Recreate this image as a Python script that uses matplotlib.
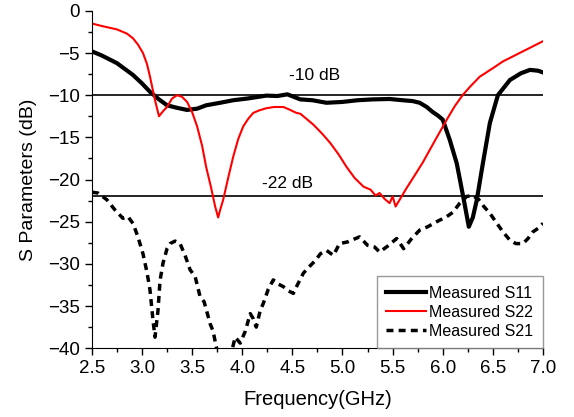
import matplotlib
matplotlib.use("Agg")
import matplotlib.pyplot as plt
from matplotlib.ticker import MultipleLocator

plt.rcParams['font.family'] = ['Liberation Sans', 'DejaVu Sans']

# S11 (black solid)
f_s11 = [2.5, 2.6, 2.75, 2.91, 3.0, 3.08, 3.17, 3.25, 3.35, 3.45, 3.55, 3.64, 3.78, 3.91,
         4.05, 4.24, 4.35, 4.45, 4.58, 4.7, 4.84, 5.0, 5.15, 5.3, 5.47, 5.6, 5.7, 5.77,
         5.84, 5.9, 5.95, 6.0, 6.07, 6.14, 6.21, 6.26, 6.30, 6.34, 6.40, 6.47, 6.55, 6.67,
         6.78, 6.87, 6.95, 7.0]
s11 = [-4.8, -5.3, -6.2, -7.6, -8.6, -9.6, -10.5, -11.2, -11.5, -11.75, -11.6, -11.2, -10.9,
       -10.6, -10.4, -10.05, -10.1, -9.9, -10.5, -10.6, -10.9, -10.8, -10.6, -10.5, -10.45,
       -10.6, -10.7, -10.9, -11.4, -12.0, -12.4, -12.9, -15.3, -18.1, -22.4, -25.6, -24.5,
       -22.4, -18.1, -13.3, -10.0, -8.2, -7.4, -7.0, -7.1, -7.3]

# S22 (red solid)
f_s22 = [2.5, 2.6, 2.75, 2.85, 2.91, 2.96, 3.01, 3.05, 3.08, 3.13, 3.17, 3.21, 3.25, 3.3, 3.35,
         3.4, 3.45, 3.5, 3.55, 3.6, 3.64, 3.69, 3.73, 3.76, 3.78, 3.81, 3.86, 3.91, 3.96, 4.01,
         4.06, 4.11, 4.17, 4.24, 4.32, 4.41, 4.47, 4.54, 4.58, 4.64, 4.71, 4.8, 4.88, 4.96,
         5.04, 5.12, 5.21, 5.28, 5.33, 5.37, 5.42, 5.47, 5.5, 5.53, 5.57, 5.64, 5.71, 5.8,
         5.87, 5.95, 6.04, 6.12, 6.2, 6.28, 6.37, 6.5, 6.6, 6.7, 6.85, 7.0]
s22 = [-1.5, -1.8, -2.2, -2.7, -3.25, -4.0, -5.0, -6.3, -7.8, -10.6, -12.5, -11.9, -11.4,
       -10.4, -10.0, -10.2, -10.8, -12.0, -13.7, -16.0, -18.5, -21.0, -23.2, -24.5, -23.6,
       -22.4, -19.8, -17.3, -15.2, -13.7, -12.8, -12.1, -11.8, -11.55, -11.4, -11.4, -11.7,
       -12.1, -12.2, -12.8, -13.5, -14.6, -15.7, -17.0, -18.5, -19.8, -20.85, -21.2, -21.9,
       -21.6, -22.3, -22.8, -22.0, -23.2, -22.4, -21.0, -19.7, -18.0, -16.5, -14.8, -12.9,
       -11.3, -9.97, -8.9, -7.8, -6.8, -6.0, -5.4, -4.5, -3.6]

# S21 (black dashed)
f_s21 = [2.5, 2.56, 2.65, 2.73, 2.81, 2.86, 2.91, 2.96, 3.01, 3.05, 3.08, 3.11, 3.13, 3.16,
         3.18, 3.21, 3.25, 3.28, 3.33, 3.38, 3.43, 3.48, 3.53, 3.58, 3.62, 3.68, 3.71, 3.74,
         3.78, 3.85, 3.93, 3.98, 4.03, 4.08, 4.11, 4.14, 4.18, 4.21, 4.26, 4.31, 4.36, 4.41,
         4.46, 4.51, 4.55, 4.61, 4.68, 4.73, 4.78, 4.84, 4.91, 4.97, 5.05, 5.17, 5.25, 5.32,
         5.37, 5.45, 5.54, 5.61, 5.69, 5.77, 5.85, 5.94, 6.04, 6.1, 6.17, 6.24, 6.3, 6.36,
         6.41, 6.47, 6.54, 6.6, 6.67, 6.73, 6.8, 6.85, 6.9, 6.95, 7.0]
s21 = [-21.5, -21.6, -22.4, -23.6, -24.6, -24.4, -25.2, -26.8, -28.8, -31.0, -33.1, -36.7,
       -38.7, -35.5, -32.0, -29.9, -28.2, -27.6, -27.3, -27.6, -29.0, -30.7, -31.5, -33.9,
       -34.5, -37.1, -38.0, -39.8, -41.5, -42.5, -38.7, -39.4, -38.0, -35.9, -36.5, -37.5,
       -35.5, -34.7, -33.0, -31.9, -32.4, -32.7, -33.2, -33.5, -32.5, -31.1, -30.2, -29.6,
       -28.8, -28.4, -29.0, -27.6, -27.4, -26.8, -27.8, -28.0, -28.6, -27.9, -27.0, -28.2,
       -27.0, -26.0, -25.6, -25.0, -24.4, -23.9, -22.8, -22.0, -21.9, -22.4, -23.2, -24.0,
       -25.2, -26.2, -27.2, -27.6, -27.6, -27.0, -26.2, -25.8, -25.2]

fig = plt.figure(figsize=(5.74, 4.17), dpi=100)
ax = fig.add_axes([0.160, 0.165, 0.786, 0.809])

ax.axhline(-10, color='black', lw=1.2)
ax.axhline(-22, color='black', lw=1.2)
ax.plot(f_s11, s11, color='black', lw=3, label='Measured S11')
ax.plot(f_s22, s22, color='red', lw=1.5, label='Measured S22')
ax.plot(f_s21, s21, color='black', lw=2.5, linestyle=(0, (2, 1.5)), label='Measured S21')

ax.text(4.72, -8.2, '-10 dB', fontsize=12.5, ha='center')
ax.text(4.45, -21.0, '-22 dB', fontsize=12.5, ha='center')

ax.set_xlim(2.5, 7.0)
ax.set_ylim(-40, 0)
ax.xaxis.set_major_locator(MultipleLocator(0.5))
ax.xaxis.set_minor_locator(MultipleLocator(0.25))
ax.yaxis.set_major_locator(MultipleLocator(5))
ax.yaxis.set_minor_locator(MultipleLocator(2.5))
ax.set_xticks([2.5, 3.0, 3.5, 4.0, 4.5, 5.0, 5.5, 6.0, 6.5, 7.0])
ax.set_xticklabels(['2.5', '3.0', '3.5', '4.0', '4.5', '5.0', '5.5', '6.0', '6.5', '7.0'])
ax.tick_params(which='major', direction='out', length=5, width=1, labelsize=13.5)
ax.tick_params(which='minor', direction='out', length=3, width=1)
ax.spines['top'].set_visible(False)
ax.spines['right'].set_visible(False)

ax.set_xlabel('Frequency(GHz)', fontsize=14.5, labelpad=9)
ax.set_ylabel('S Parameters (dB)', fontsize=14, labelpad=8)

leg = ax.legend(loc='lower right', fontsize=11.5, frameon=True, fancybox=False,
                edgecolor='gray', handlelength=2.5, borderaxespad=0.0, borderpad=0.6,
                handletextpad=0.2, labelspacing=0.25)
leg.get_frame().set_linewidth(1.0)

fig.savefig('out.png', dpi=100)
